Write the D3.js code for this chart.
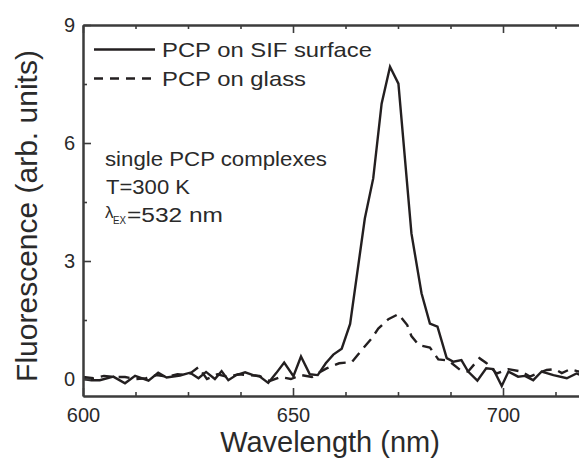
<!DOCTYPE html>
<html>
<head>
<meta charset="utf-8">
<script src="https://cdn.jsdelivr.net/npm/d3@7"></script>
<style>
  html, body { margin: 0; padding: 0; background: #fff; }
  svg { display: block; font-family: "Liberation Sans", Arial, sans-serif; }
</style>
</head>
<body>
<svg id="chart" width="579" height="460"></svg>
<script>
// ---------------- data ----------------
const sifWavelength = [600, 602, 604, 607.2, 610, 612.4, 615.6, 617.9, 619.9, 623.1, 625.5, 627.5, 629.3, 631.4, 633, 634.6, 636.5, 638.6, 640.5, 642.1, 644.1, 646, 647.9, 650.1, 651.9, 654, 655.9, 657.8, 659.6, 661.6, 663.6, 667.1, 669.1, 671.1, 673.1, 675.1, 678.2, 680.6, 682.6, 684.4, 686.6, 688.2, 690.1, 691.7, 693.9, 696, 697.7, 699.7, 701.3, 703.6, 705.2, 707.2, 709.2, 712, 715.2, 717.5, 719];
const sifValue = [0.0, -0.03, -0.03, 0.06, -0.11, 0.08, -0.04, 0.16, 0.04, 0.09, 0.16, 0.02, 0.18, 0.0, 0.2, -0.03, 0.1, 0.17, 0.1, 0.06, -0.1, 0.15, 0.42, 0.07, 0.57, 0.12, 0.1, 0.4, 0.62, 0.77, 1.4, 4.08, 5.1, 7.0, 7.94, 7.51, 3.7, 2.18, 1.41, 1.33, 0.53, 0.44, 0.48, 0.19, -0.04, 0.27, 0.25, -0.18, 0.19, 0.06, 0.08, -0.03, 0.19, 0.1, 0.02, 0.14, 0.08];

const glassWavelength = [600, 602.5, 605, 607.5, 610, 612.5, 615, 617.5, 620, 622.5, 625, 627.5, 629.5, 632, 634.5, 637, 639.5, 642, 644.5, 647, 649.5, 652, 654.5, 656, 658, 661, 664, 666, 668.7, 670.3, 672.7, 675.1, 677.2, 678.2, 680, 682.6, 684.6, 687, 689.8, 691.7, 694.4, 696.1, 698.5, 701.3, 704.4, 706.4, 708.4, 710.4, 712.4, 714, 716, 718, 719];
const glassValue = [0.05, 0.02, 0.08, 0.05, 0.05, 0.0, 0.02, 0.1, 0.06, 0.12, 0.1, 0.3, 0.0, 0.12, 0.05, 0.12, 0.1, 0.08, -0.05, 0.05, 0.0, 0.1, 0.05, 0.15, 0.27, 0.4, 0.43, 0.69, 1.03, 1.28, 1.52, 1.65, 1.37, 1.09, 0.86, 0.8, 0.5, 0.47, 0.23, 0.19, 0.53, 0.4, 0.14, 0.25, 0.19, 0.06, 0.15, 0.23, 0.25, 0.15, 0.25, 0.19, 0.2];

const seriesNames = ["PCP on SIF surface", "PCP on glass"];
const xMajorTicks = [600, 650, 700];
const xMinorTicks = [612.5, 625, 637.5, 662.5, 675, 687.5, 712.5];
const yMajorTicks = [0, 3, 6, 9];
const yMinorTicks = [1.5, 4.5, 7.5];
const xTitle = "Wavelength (nm)";
const yTitle = "Fluorescence (arb. units)";
const noteLines = ["single PCP complexes", "T=300 K"];
const noteLambda = ["λ", "EX", "=532 nm"];

// ---------------- layout ----------------
const svg = d3.select("#chart");
const pL = 83, pR = 579, pT = 25, pB = 396;
const x = d3.scaleLinear().domain([600, 600 + (pR - pL) / 4.2]).range([pL, pR]);
const y = d3.scaleLinear().domain([-0.432, 9]).range([pB, pT]);
const ink = "#231f20";
const axisInk = "#3c3c3c";
const textInk = "#2a2a2a";

svg.append("defs").append("clipPath").attr("id", "clip")
  .append("rect").attr("x", pL).attr("y", pT).attr("width", pR - pL).attr("height", pB - pT);

// data lines
const line = d3.line().x(d => x(d[0])).y(d => y(d[1]));
const glass = glassWavelength.map((w, i) => [w, glassValue[i]]);
const sif = sifWavelength.map((w, i) => [w, sifValue[i]]);

const plot = svg.append("g").attr("clip-path", "url(#clip)");
plot.append("path").datum(glass).attr("d", line)
  .attr("fill", "none").attr("stroke", ink).attr("stroke-width", 2.4)
  .attr("stroke-dasharray", "11,7").attr("stroke-linejoin", "miter");
plot.append("path").datum(sif).attr("d", line)
  .attr("fill", "none").attr("stroke", ink).attr("stroke-width", 2.4)
  .attr("stroke-linejoin", "miter");

// axes (ticks inward)
function styleAxis(g) {
  g.select(".domain").attr("stroke", axisInk).attr("stroke-width", 2);
  g.selectAll(".tick line").attr("stroke", axisInk).attr("stroke-width", 1.6);
  g.selectAll(".tick text").attr("fill", textInk).style("font-size", "20px")
    .style("font-family", "'Liberation Sans', Arial, sans-serif");
}

// bottom
const gx = svg.append("g").attr("transform", `translate(0,${pB})`)
  .call(d3.axisBottom(x).tickValues(xMajorTicks).tickSize(-8).tickSizeOuter(0).tickPadding(12));
styleAxis(gx);
svg.append("g").attr("transform", `translate(0,${pB})`)
  .call(d3.axisBottom(x).tickValues(xMinorTicks).tickSize(-4).tickSizeOuter(0).tickFormat(""))
  .call(styleAxis);

// top
svg.append("g").attr("transform", `translate(0,${pT})`)
  .call(d3.axisTop(x).tickValues(xMajorTicks).tickSize(-8).tickSizeOuter(0).tickFormat(""))
  .call(styleAxis);
svg.append("g").attr("transform", `translate(0,${pT})`)
  .call(d3.axisTop(x).tickValues(xMinorTicks).tickSize(-4).tickSizeOuter(0).tickFormat(""))
  .call(styleAxis);

// left
const gy = svg.append("g").attr("transform", `translate(${pL},0)`)
  .call(d3.axisLeft(y).tickValues(yMajorTicks).tickSize(-8).tickSizeOuter(0).tickPadding(8).tickFormat(d3.format("d")));
styleAxis(gy);
svg.append("g").attr("transform", `translate(${pL},0)`)
  .call(d3.axisLeft(y).tickValues(yMinorTicks).tickSize(-4).tickSizeOuter(0).tickFormat(""))
  .call(styleAxis);

// axis titles
svg.append("text").attr("x", 330).attr("y", 452).attr("text-anchor", "middle")
  .attr("fill", textInk).style("font-size", "29px").text(xTitle);
svg.append("text").attr("transform", "translate(37,216) rotate(-90)").attr("text-anchor", "middle")
  .attr("fill", textInk).style("font-size", "30px").text(yTitle);

// legend
const legY = [49.5, 78.5];
const legLen = [210, 144];
svg.append("line").attr("x1", 94).attr("x2", 155).attr("y1", legY[0]).attr("y2", legY[0])
  .attr("stroke", ink).attr("stroke-width", 2.5);
svg.append("line").attr("x1", 94).attr("x2", 155).attr("y1", legY[1]).attr("y2", legY[1])
  .attr("stroke", ink).attr("stroke-width", 2.5).attr("stroke-dasharray", "9,7");
seriesNames.forEach((n, i) => {
  svg.append("text").attr("x", 162).attr("y", legY[i] + 7.5).attr("fill", textInk)
    .style("font-size", "21px")
    .attr("textLength", legLen[i]).attr("lengthAdjust", "spacingAndGlyphs").text(n);
});

// annotation
svg.append("text").attr("x", 105).attr("y", 166).attr("fill", textInk).style("font-size", "20.5px")
  .attr("textLength", 222).attr("lengthAdjust", "spacingAndGlyphs").text(noteLines[0]);
svg.append("text").attr("x", 106).attr("y", 194).attr("fill", textInk).style("font-size", "20.5px")
  .attr("textLength", 84).attr("lengthAdjust", "spacingAndGlyphs").text(noteLines[1]);
const lamG = svg.append("g");
lamG.append("text").attr("x", 105).attr("y", 218).attr("fill", textInk).style("font-size", "17px").text(noteLambda[0]);
lamG.append("text").attr("x", 113).attr("y", 224).attr("fill", textInk).style("font-size", "10.5px")
  .attr("textLength", 13).attr("lengthAdjust", "spacingAndGlyphs").text(noteLambda[1]);
lamG.append("text").attr("x", 127).attr("y", 222).attr("fill", textInk).style("font-size", "20.5px")
  .attr("textLength", 96).attr("lengthAdjust", "spacingAndGlyphs").text(noteLambda[2]);
</script>
</body>
</html>
